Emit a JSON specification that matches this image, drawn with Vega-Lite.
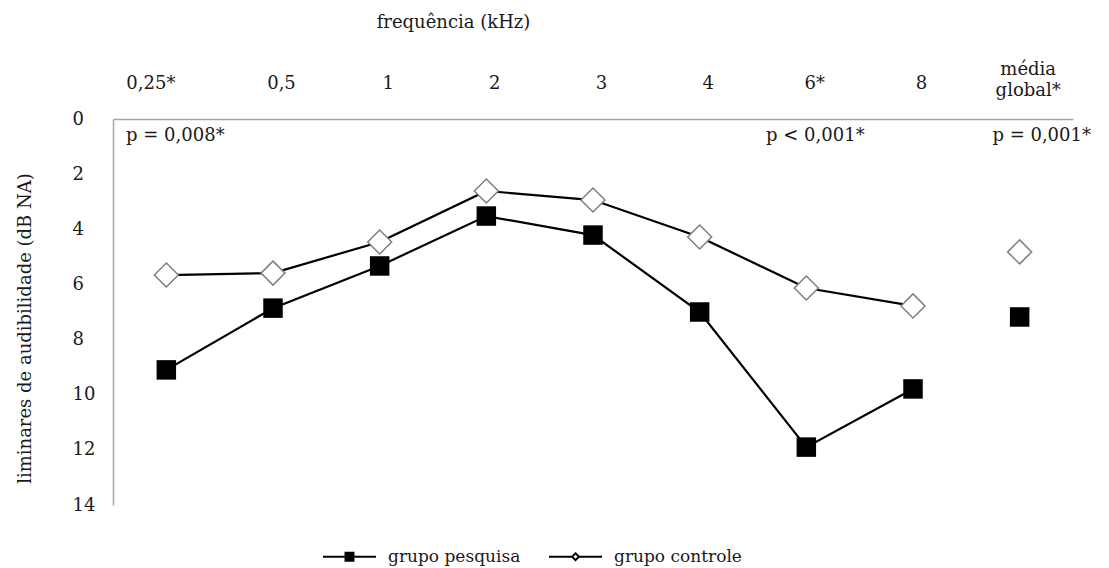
{
  "$schema": "https://vega.github.io/schema/vega-lite/v6.json",
  "autosize": {"type": "none"},
  "padding": {"left": 113, "top": 119, "right": 36, "bottom": 63},
  "width": 960,
  "height": 386,
  "background": "white",
  "config": {
    "view": {"stroke": null},
    "font": "DejaVu Serif",
    "text": {"font": "DejaVu Serif"}
  },
  "datasets": {
    "limiares": [
      {"freq": "0,25*", "grupo": "grupo pesquisa", "valor": 9.1},
      {"freq": "0,5", "grupo": "grupo pesquisa", "valor": 6.86},
      {"freq": "1", "grupo": "grupo pesquisa", "valor": 5.33},
      {"freq": "2", "grupo": "grupo pesquisa", "valor": 3.52},
      {"freq": "3", "grupo": "grupo pesquisa", "valor": 4.21},
      {"freq": "4", "grupo": "grupo pesquisa", "valor": 7.0},
      {"freq": "6*", "grupo": "grupo pesquisa", "valor": 11.9},
      {"freq": "8", "grupo": "grupo pesquisa", "valor": 9.79},
      {"freq": "média global*", "grupo": "grupo pesquisa", "valor": 7.18},
      {"freq": "0,25*", "grupo": "grupo controle", "valor": 5.66},
      {"freq": "0,5", "grupo": "grupo controle", "valor": 5.59},
      {"freq": "1", "grupo": "grupo controle", "valor": 4.46},
      {"freq": "2", "grupo": "grupo controle", "valor": 2.61},
      {"freq": "3", "grupo": "grupo controle", "valor": 2.94},
      {"freq": "4", "grupo": "grupo controle", "valor": 4.28},
      {"freq": "6*", "grupo": "grupo controle", "valor": 6.13},
      {"freq": "8", "grupo": "grupo controle", "valor": 6.78},
      {"freq": "média global*", "grupo": "grupo controle", "valor": 4.82}
    ],
    "pvalores": [
      {"freq": "0,25*", "valor": 0.6, "texto": "p = 0,008*"},
      {"freq": "6*", "valor": 0.6, "texto": "p < 0,001*"},
      {"freq": "média global*", "valor": 0.6, "texto": "p = 0,001*"}
    ]
  },
  "encoding": {
    "x": {
      "field": "freq",
      "type": "nominal",
      "sort": ["0,25*", "0,5", "1", "2", "3", "4", "6*", "8", "média global*"],
      "scale": {"type": "point", "padding": 0.5},
      "axis": {
        "orient": "top",
        "title": "frequência (kHz)",
        "titleFont": "DejaVu Serif",
        "titleFontSize": 18,
        "titleFontWeight": "normal",
        "titleColor": "#1a1a1a",
        "titleX": 340,
        "titleY": -92,
        "titleBaseline": "alphabetic",
        "titleAlign": "center",
        "labelFont": "DejaVu Serif",
        "labelFontSize": 18,
        "labelColor": "#1a1a1a",
        "labelAngle": 0,
        "labelBaseline": "bottom",
        "labelLineHeight": 21,
        "labelPadding": {"condition": {"test": "datum.value == 'média global*'", "value": 41}, "value": 27},
        "labelOffset": {"condition": {"test": "datum.value == '0,25*'", "value": -16}, "value": 8},
        "labelExpr": "datum.value == 'média global*' ? ['média', 'global*'] : datum.label",
        "ticks": false,
        "tickSize": 0,
        "domainColor": "#a6a6a6",
        "domainWidth": 1.5,
        "grid": false
      }
    },
    "y": {
      "field": "valor",
      "type": "quantitative",
      "scale": {"domain": [0, 14], "reverse": true, "nice": false, "zero": true},
      "axis": {
        "title": "liminares de audibilidade (dB NA)",
        "titleFont": "DejaVu Serif",
        "titleFontSize": 18,
        "titleFontWeight": "normal",
        "titleColor": "#1a1a1a",
        "titleX": -88,
        "titleY": 209,
        "titleAngle": -90,
        "titleBaseline": "middle",
        "titleAlign": "center",
        "values": [0, 2, 4, 6, 8, 10, 12, 14],
        "labelFont": "DejaVu Serif",
        "labelFontSize": 18,
        "labelColor": "#1a1a1a",
        "labelAlign": "left",
        "labelBaseline": "middle",
        "labelPadding": 41,
        "ticks": false,
        "tickSize": 0,
        "domainColor": "#a6a6a6",
        "domainWidth": 1.5,
        "grid": false
      }
    }
  },
  "layer": [
    {
      "data": {"name": "limiares"},
      "transform": [{"filter": "datum.freq != 'média global*'"}],
      "mark": {"type": "line", "strokeWidth": 2.2},
      "encoding": {
        "color": {
          "field": "grupo",
          "type": "nominal",
          "scale": {"domain": ["grupo pesquisa", "grupo controle"], "range": ["black", "black"]},
          "legend": {
            "title": null,
            "orient": "none",
            "direction": "horizontal",
            "legendX": 209,
            "legendY": 410,
            "padding": 0,
            "symbolSize": 2809,
            "symbolStrokeWidth": 2,
            "labelFont": "DejaVu Serif",
            "labelFontSize": 17,
            "labelColor": "#1a1a1a",
            "labelOffset": 11,
            "columnPadding": 24,
            "encode": {
              "symbols": {
                "update": {
                  "shape": {"signal": "datum.value == 'grupo pesquisa' ? 'M-1,0H-0.15M0.15,0H1M-0.15,-0.15H0.15V0.15H-0.15Z' : 'M-1,0H-0.13M0.13,0H1M0,-0.13L0.13,0L0,0.13L-0.13,0Z'"},
                  "fill": {"signal": "datum.value == 'grupo pesquisa' ? 'black' : 'white'"},
                  "fillOpacity": {"value": 1},
                  "stroke": {"value": "black"},
                  "strokeWidth": {"value": 2}
                }
              }
            }
          }
        }
      }
    },
    {
      "data": {"name": "limiares"},
      "transform": [{"filter": "datum.grupo == 'grupo pesquisa'"}],
      "mark": {"type": "point", "shape": "square", "filled": true, "size": 380, "color": "black", "opacity": 1}
    },
    {
      "data": {"name": "limiares"},
      "transform": [{"filter": "datum.grupo == 'grupo controle'"}],
      "mark": {"type": "point", "shape": "diamond", "filled": true, "size": 576, "fill": "white", "stroke": "#7f7f7f", "strokeWidth": 1.5, "opacity": 1, "fillOpacity": 1}
    },
    {
      "data": {"name": "pvalores"},
      "transform": [{"filter": "datum.freq != 'média global*'"}],
      "mark": {"type": "text", "font": "DejaVu Serif", "fontSize": 18, "color": "#1a1a1a", "align": "center", "baseline": "middle", "dx": 9},
      "encoding": {"text": {"field": "texto"}}
    },
    {
      "data": {"name": "pvalores"},
      "transform": [{"filter": "datum.freq == 'média global*'"}],
      "mark": {"type": "text", "font": "DejaVu Serif", "fontSize": 18, "color": "#1a1a1a", "align": "center", "baseline": "middle", "dx": 22},
      "encoding": {"text": {"field": "texto"}}
    }
  ]
}
